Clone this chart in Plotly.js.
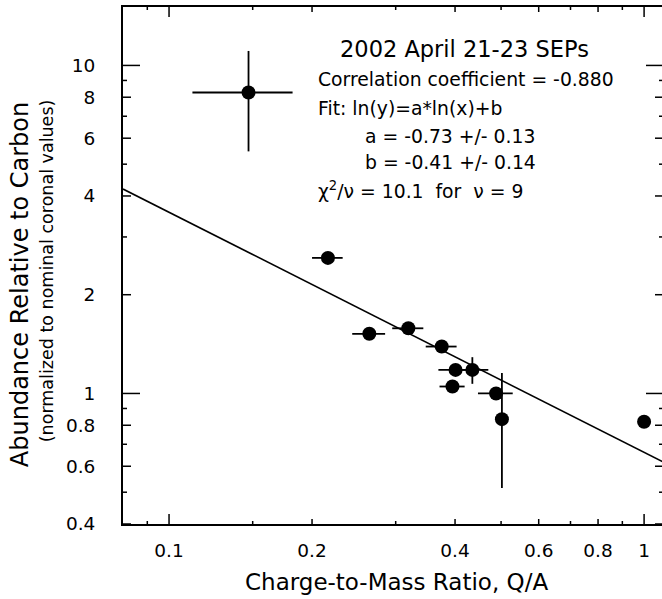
<!DOCTYPE html>
<html>
<head>
<meta charset="utf-8">
<script src="https://cdn.plot.ly/plotly-3.0.1.min.js"></script>
<style>html,body{margin:0;padding:0;overflow:hidden;background:#fff;}#chart{width:664px;height:599px;}</style>
</head>
<body>
<div id="chart"></div>
<script>
// Data
const qa        = [0.147, 0.216, 0.264, 0.319, 0.375, 0.401, 0.435, 0.395, 0.488, 0.502, 1.0];
const abund     = [8.27, 2.59, 1.52, 1.58, 1.39, 1.18, 1.18, 1.05, 1.00, 0.835, 0.82];
const qaErr     = [0.035, 0.016, 0.021, 0.024, 0.028, 0.032, 0.035, 0.024, 0.041, 0, 0];
const abundErr  = [2.8, 0, 0, 0, 0, 0, 0.11, 0, 0, 0.32, 0];
const fitQA     = [0.08, 1.1];
const fitAbund  = [4.2, 0.617];

const xTickVals   = [0.1, 0.2, 0.4, 0.6, 0.8, 1];
const xTickText   = ['0.1', '0.2', '0.4', '0.6', '0.8', '1'];
const xMinorVals  = [0.09, 0.15, 0.3, 0.5, 0.7, 0.9];
const xDecadeVals = [0.1, 1];
const yTickVals   = [0.4, 0.6, 0.8, 1, 2, 4, 6, 8, 10];
const yTickText   = ['0.4', '0.6', '0.8', '1', '2', '4', '6', '8', '10'];
const yMinorVals  = [0.5, 0.7, 0.9, 3, 5, 7, 9];
const yDecadeVals = [1, 10];

const xRange = [Math.log10(0.08), Math.log10(1.096)];
const yRange = [Math.log10(0.4), Math.log10(15.07)];

const FONT = 'DejaVu Sans, sans-serif';

const traces = [
  {
    x: qa, y: abund, type: 'scatter', mode: 'markers',
    marker: {color: '#000', size: 14},
    error_x: {type: 'data', array: qaErr, visible: true, color: '#000', thickness: 1.8, width: 0},
    error_y: {type: 'data', array: abundErr, visible: true, color: '#000', thickness: 1.8, width: 0},
    hoverinfo: 'skip', showlegend: false
  },
  {
    x: fitQA, y: fitAbund, type: 'scatter', mode: 'lines',
    line: {color: '#000', width: 1.6},
    hoverinfo: 'skip', showlegend: false
  }
];

// Tick marks on all four sides, built from the tick arrays (lengths in pixels)
const tickLine = {color: '#000', width: 1.5};
const shapes = [];
function addXTicks(vals, len) {
  vals.forEach(function (v) {
    shapes.push({type: 'line', xref: 'x', yref: 'paper', ysizemode: 'pixel', yanchor: 0,
                 x0: v, x1: v, y0: 0, y1: len, line: tickLine, layer: 'above'});
    shapes.push({type: 'line', xref: 'x', yref: 'paper', ysizemode: 'pixel', yanchor: 1,
                 x0: v, x1: v, y0: 0, y1: -len, line: tickLine, layer: 'above'});
  });
}
function addYTicks(vals, len) {
  vals.forEach(function (v) {
    shapes.push({type: 'line', xref: 'paper', yref: 'y', xsizemode: 'pixel', xanchor: 0,
                 x0: 0, x1: len, y0: v, y1: v, line: tickLine, layer: 'above'});
    shapes.push({type: 'line', xref: 'paper', yref: 'y', xsizemode: 'pixel', xanchor: 1,
                 x0: 0, x1: -len, y0: v, y1: v, line: tickLine, layer: 'above'});
  });
}
addXTicks(xMinorVals, 3);
addXTicks(xTickVals.filter(function (v) { return xDecadeVals.indexOf(v) < 0; }), 5);
addXTicks(xDecadeVals, 10);
addYTicks(yMinorVals, 4);
addYTicks(yTickVals.filter(function (v) { return yDecadeVals.indexOf(v) < 0; }), 8);
addYTicks(yDecadeVals, 17);

const annotations = [
  {text: '2002 April 21-23 SEPs', xref: 'paper', yref: 'paper', x: 0.633, y: 0.919,
   xanchor: 'center', yanchor: 'middle', showarrow: false, font: {family: FONT, size: 22.5, color: '#000'}},
  {text: 'Correlation coefficient = -0.880', xref: 'paper', yref: 'paper', x: 0.357, y: 0.859,
   xanchor: 'left', yanchor: 'middle', showarrow: false, font: {family: FONT, size: 18.8, color: '#000'}},
  {text: 'Fit: ln(y)=a*ln(x)+b', xref: 'paper', yref: 'paper', x: 0.357, y: 0.804,
   xanchor: 'left', yanchor: 'middle', showarrow: false, font: {family: FONT, size: 18.8, color: '#000'}},
  {text: 'a = -0.73 +/- 0.13', xref: 'paper', yref: 'paper', x: 0.445, y: 0.750,
   xanchor: 'left', yanchor: 'middle', showarrow: false, font: {family: FONT, size: 18.8, color: '#000'}},
  {text: 'b = -0.41 +/- 0.14', xref: 'paper', yref: 'paper', x: 0.445, y: 0.699,
   xanchor: 'left', yanchor: 'middle', showarrow: false, font: {family: FONT, size: 18.8, color: '#000'}},
  {text: 'χ<sup>2</sup>/ν = 10.1\u00a0 for\u00a0 ν = 9', xref: 'paper', yref: 'paper', x: 0.357, y: 0.647,
   xanchor: 'left', yanchor: 'middle', showarrow: false, font: {family: FONT, size: 18.8, color: '#000'}},
  {text: 'Abundance Relative to Carbon', xref: 'paper', yref: 'paper', x: -0.1907, y: 0.462,
   textangle: -90, xanchor: 'center', yanchor: 'middle', showarrow: false, font: {family: FONT, size: 24, color: '#000'}},
  {text: '(normalized to nominal coronal values)', xref: 'paper', yref: 'paper', x: -0.1407, y: 0.489,
   textangle: -90, xanchor: 'center', yanchor: 'middle', showarrow: false, font: {family: FONT, size: 17.5, color: '#000'}},
  {text: 'Charge-to-Mass Ratio, Q/A', xref: 'paper', yref: 'paper', x: 0.5065, y: -0.1122,
   xanchor: 'center', yanchor: 'middle', showarrow: false, font: {family: FONT, size: 23, color: '#000'}}
];

const layout = {
  width: 664, height: 599,
  margin: {l: 123, r: 1, t: 7, b: 75},
  paper_bgcolor: '#fff', plot_bgcolor: '#fff',
  font: {family: FONT, color: '#000', size: 18},
  showlegend: false,
  xaxis: {
    type: 'log', range: xRange,
    tickmode: 'array', tickvals: xTickVals, ticktext: xTickText,
    ticks: '', showline: true, linecolor: '#000', linewidth: 2, mirror: true,
    showgrid: false, zeroline: false,
    tickfont: {family: FONT, size: 18.5, color: '#000'},
    ticklabelstandoff: 9
  },
  yaxis: {
    type: 'log', range: yRange,
    tickmode: 'array', tickvals: yTickVals, ticktext: yTickText,
    ticks: '', showline: true, linecolor: '#000', linewidth: 2, mirror: true,
    showgrid: false, zeroline: false,
    tickfont: {family: FONT, size: 18.5, color: '#000'},
    ticklabelstandoff: 22
  },
  shapes: shapes,
  annotations: annotations
};

Plotly.newPlot('chart', traces, layout, {staticPlot: true, displayModeBar: false});
</script>
</body>
</html>
